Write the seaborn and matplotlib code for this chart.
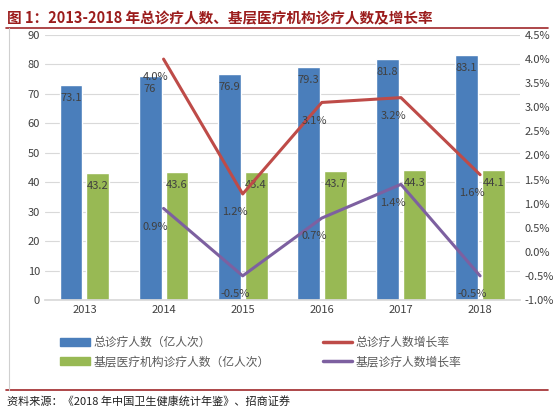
import matplotlib
matplotlib.use("Agg")
import matplotlib.pyplot as plt
import seaborn as sns
import pandas as pd
import numpy as np
from matplotlib.lines import Line2D
from matplotlib.patches import Patch

years = ["2013", "2014", "2015", "2016", "2017", "2018"]
total_visits = [73.1, 76, 76.9, 79.3, 81.8, 83.1]
grass_visits = [43.2, 43.6, 43.4, 43.7, 44.3, 44.1]
total_growth = [None, 4.0, 1.2, 3.1, 3.2, 1.6]
grass_growth = [None, 0.9, -0.5, 0.7, 1.4, -0.5]
s_total = "总诊疗人数（亿人次）"
s_grass = "基层医疗机构诊疗人数（亿人次）"
s_tg = "总诊疗人数增长率"
s_gg = "基层诊疗人数增长率"

sns.set_theme(style="white")
plt.rcParams['font.family'] = ['Noto Sans CJK SC', 'DejaVu Sans']

blue, green, red, purple = "#4a7ebb", "#98b954", "#be4b48", "#7d60a0"

fig = plt.figure(figsize=(5.54, 4.12), dpi=100)
ax = fig.add_axes([0.081, 0.272, 0.857, 0.643])

df = pd.DataFrame({"year": years * 2,
                   "value": total_visits + grass_visits,
                   "series": [s_total] * 6 + [s_grass] * 6})
sns.barplot(data=df, x="year", y="value", hue="series", palette=[blue, green],
            ax=ax, width=0.68, gap=0.15, legend=False, saturation=1)
for cont in ax.containers:
    labels = [("%g" % v) for v in cont.datavalues]
    ax.bar_label(cont, labels=labels, padding=-13, fontsize=8, color="#404040")
ax.set_ylim(0, 90)
ax.set_yticks(range(0, 91, 10))
ax.set_xlim(-0.5, 5.5)
ax.set_xlabel(""); ax.set_ylabel("")
ax.yaxis.grid(True, color="#d9d9d9", lw=0.8)
ax.set_axisbelow(True)
for s in ax.spines.values():
    s.set_visible(False)
ax.spines["bottom"].set_visible(True); ax.spines["bottom"].set_color("#d9d9d9")
ax.tick_params(labelsize=8, colors="#404040", length=0)

ax2 = ax.twinx()
gdf = pd.DataFrame({"x": list(range(6)) * 2,
                    "g": total_growth + grass_growth,
                    "series": [s_tg] * 6 + [s_gg] * 6}).dropna()
sns.lineplot(data=gdf, x="x", y="g", hue="series", palette=[red, purple],
             ax=ax2, lw=2.2, legend=False)
for vals in (total_growth, grass_growth):
    for i, v in enumerate(vals):
        if v is None:
            continue
        ax2.text(i - 0.1, v - 0.38, "%.1f%%" % v, ha="center", va="center",
                 fontsize=8, color="#404040")
ax2.set_ylim(-1.0, 4.5)
ax2.set_yticks(np.arange(-1.0, 4.51, 0.5))
ax2.set_yticklabels(["%.1f%%" % t for t in np.arange(-1.0, 4.51, 0.5)])
ax2.set_ylabel("")
for s in ax2.spines.values():
    s.set_visible(False)
ax2.tick_params(labelsize=8, colors="#404040", length=0)
ax2.set_xlim(-0.5, 5.5)

handles = [Patch(color=blue), Patch(color=green),
           Line2D([], [], color=red, lw=2.5), Line2D([], [], color=purple, lw=2.5)]
fig.legend(handles, [s_total, s_grass, s_tg, s_gg], ncol=2, loc="center left",
           bbox_to_anchor=(0.09, 0.145), frameon=False, fontsize=8.5,
           labelcolor="#595959", handlelength=2.5, columnspacing=4.5, handleheight=0.6,
           handletextpad=0.3)

fig.text(0.012, 0.975, "图 1：2013-2018 年总诊疗人数、基层医疗机构诊疗人数及增长率",
         fontsize=10.5, fontweight="bold", color="#9b1c1c", va="top")
dred = "#a0282a"
fig.add_artist(Line2D([0.01, 0.99], [0.932, 0.932], color=dred, lw=1.2))
fig.add_artist(Line2D([0.01, 0.99], [0.053, 0.053], color=dred, lw=1.2))
fig.add_artist(Line2D([0.016, 0.016], [0.053, 0.932], color="#d0d0d0", lw=0.8))
fig.text(0.012, 0.025, "资料来源：《2018 年中国卫生健康统计年鉴》、招商证券",
         fontsize=8, color="#202020", va="center")
fig.savefig("out.png", dpi=100)
